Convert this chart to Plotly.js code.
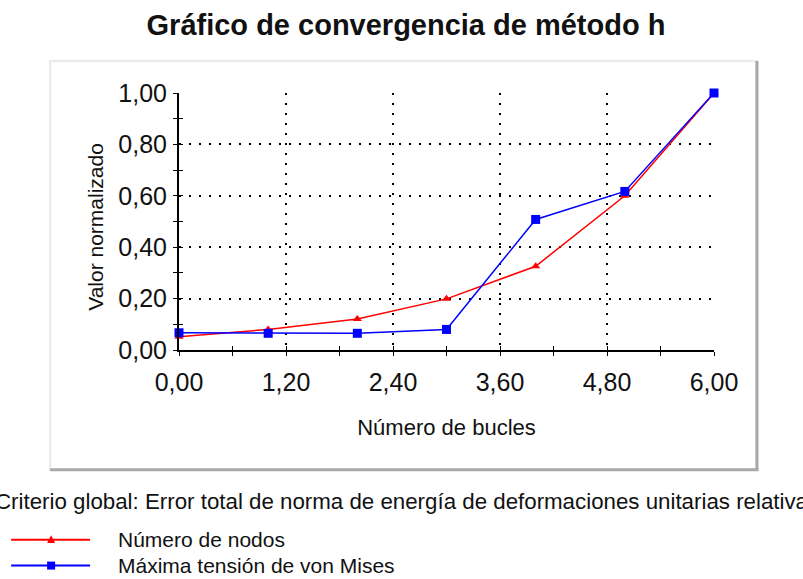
<!DOCTYPE html>
<html>
<head>
<meta charset="utf-8">
<script src="https://cdn.plot.ly/plotly-3.0.1.min.js"></script>
<style>html,body{margin:0;padding:0;background:#fff;}#chart{width:803px;height:579px;}</style>
</head>
<body>
<div id="chart"></div>
<script>
// ---- data ----
const loops = [0, 1, 2, 3, 4, 5, 6];
const numeroNodos = [0.052, 0.080, 0.121, 0.199, 0.326, 0.600, 1.000];
const tensionVonMises = [0.067, 0.065, 0.065, 0.080, 0.508, 0.617, 1.000];
const seriesNames = ["Número de nodos", "Máxima tensión de von Mises"];
const chartTitle = "Gráfico de convergencia de método h";
const xTitle = "Número de bucles";
const yTitle = "Valor normalizado";
const footnote = "Criterio global: Error total de norma de energía de deformaciones unitarias relativa";

// ---- geometry helpers (pixels -> paper) ----
const W = 803, H = 579;
const L = 179, R = 714.5, T = 93, B = 350.5;
const px = x => (x - L) / (R - L);
const py = y => (B - y) / (B - T);

const FONT = "Liberation Sans, Arial, sans-serif";

const traces = [
  {x: loops, y: numeroNodos, name: seriesNames[0], type: "scatter", mode: "lines+markers",
   line: {color: "#ff0000", width: 1.5}, marker: {symbol: "triangle-up", size: 8, color: "#ff0000"},
   showlegend: false, cliponaxis: false},
  {x: loops, y: tensionVonMises, name: seriesNames[1], type: "scatter", mode: "lines+markers",
   line: {color: "#0000ff", width: 1.5}, marker: {symbol: "square", size: 9, color: "#0000ff"},
   showlegend: false, cliponaxis: false},
  // carrier for the inner half of the crossing tick marks
  {x: loops, y: numeroNodos, xaxis: "x2", yaxis: "y2", type: "scatter", mode: "none",
   showlegend: false, hoverinfo: "skip"}
];

const shapes = [];
const annotations = [];

// frame around plot
shapes.push({type: "rect", xref: "paper", yref: "paper", x0: px(50), x1: px(757), y0: py(470.5), y1: py(61),
  line: {color: "#ececec", width: 2.5}, layer: "below"});
shapes.push({type: "line", xref: "paper", yref: "paper", x0: px(757.5), x1: px(757.5), y0: py(471), y1: py(61),
  line: {color: "#a8a8a8", width: 3}});
shapes.push({type: "line", xref: "paper", yref: "paper", x0: px(50), x1: px(759), y0: py(470.5), y1: py(470.5),
  line: {color: "#a8a8a8", width: 3}});

// y-axis title (placed as annotation to match its vertical position)
annotations.push({text: yTitle, xref: "paper", yref: "paper", x: px(96), y: py(227), textangle: -90,
  xanchor: "center", yanchor: "middle", showarrow: false, font: {family: FONT, size: 21, color: "#111"}});

// footnote (cut at both edges, as in the reference)
annotations.push({text: footnote, xref: "paper", yref: "paper", x: px(-7), y: py(502),
  xanchor: "left", yanchor: "middle", showarrow: false, font: {family: FONT, size: 22.3, color: "#111"}});

// custom legend
const legY = [540.5, 566.5];
const legCol = ["#ff0000", "#0000ff"];
legY.forEach((yy, i) => {
  shapes.push({type: "line", xref: "paper", yref: "paper", x0: px(11), x1: px(90), y0: py(yy), y1: py(yy),
    line: {color: legCol[i], width: 2}});
  annotations.push({text: seriesNames[i], xref: "paper", yref: "paper", x: px(116), y: py(yy),
    xanchor: "left", yanchor: "middle", showarrow: false, font: {family: FONT, size: 21, color: "#111"}});
});
// legend markers
shapes.push({type: "path", xref: "paper", yref: "paper",
  path: `M ${px(47)} ${py(544)} L ${px(55)} ${py(544)} L ${px(51)} ${py(536)} Z`,
  fillcolor: "#ff0000", line: {color: "#ff0000", width: 0}});
shapes.push({type: "rect", xref: "paper", yref: "paper", x0: px(47), x1: px(55), y0: py(570.5), y1: py(562.5),
  fillcolor: "#0000ff", line: {color: "#0000ff", width: 0}});

const layout = {
  width: W, height: H,
  margin: {l: L, r: W - R, t: T, b: H - B},
  paper_bgcolor: "#ffffff", plot_bgcolor: "#ffffff",
  separators: ",.",
  font: {family: FONT, color: "#111"},
  title: {text: chartTitle, font: {family: FONT, size: 29, weight: "bold", color: "#111"},
    xref: "container", x: 406 / W, xanchor: "center", yref: "container", y: 1 - 25 / H, yanchor: "middle"},
  xaxis: {range: [0, 6], tick0: 0, dtick: 1.2, tickformat: ".2f",
    showline: true, linecolor: "#000", linewidth: 2, zeroline: false,
    ticks: "outside", ticklen: 4, tickwidth: 1, tickcolor: "#000",
    minor: {dtick: 0.6, tick0: 0, ticks: "outside", ticklen: 4, tickwidth: 1, tickcolor: "#000", showgrid: false},
    showgrid: true, gridcolor: "#000", gridwidth: 2, griddash: "2px,8px",
    tickfont: {family: FONT, size: 25, color: "#111"}, ticklabelstandoff: 5,
    title: {text: xTitle, font: {family: FONT, size: 22, color: "#111"}, standoff: 25}},
  yaxis: {range: [0, 1], tick0: 0, dtick: 0.2, tickformat: ".2f",
    showline: true, linecolor: "#000", linewidth: 2, zeroline: false,
    ticks: "outside", ticklen: 4, tickwidth: 1, tickcolor: "#000",
    minor: {dtick: 0.1, tick0: 0, ticks: "outside", ticklen: 4, tickwidth: 1, tickcolor: "#000", showgrid: false},
    showgrid: true, gridcolor: "#000", gridwidth: 2, griddash: "2px,8px",
    tickfont: {family: FONT, size: 25, color: "#111"}, ticklabelstandoff: 1},
  xaxis2: {overlaying: "x", anchor: "y", range: [0, 6], tick0: 0, dtick: 0.6, ticks: "inside", ticklen: 4,
    tickwidth: 1, tickcolor: "#000", showticklabels: false, showgrid: false, showline: false, zeroline: false},
  yaxis2: {overlaying: "y", anchor: "x", side: "left", range: [0, 1], tick0: 0, dtick: 0.1, ticks: "inside", ticklen: 4,
    tickwidth: 1, tickcolor: "#000", showticklabels: false, showgrid: false, showline: false, zeroline: false},
  shapes: shapes,
  annotations: annotations,
  showlegend: false
};

Plotly.newPlot("chart", traces, layout, {displayModeBar: false, staticPlot: true});
</script>
</body>
</html>
